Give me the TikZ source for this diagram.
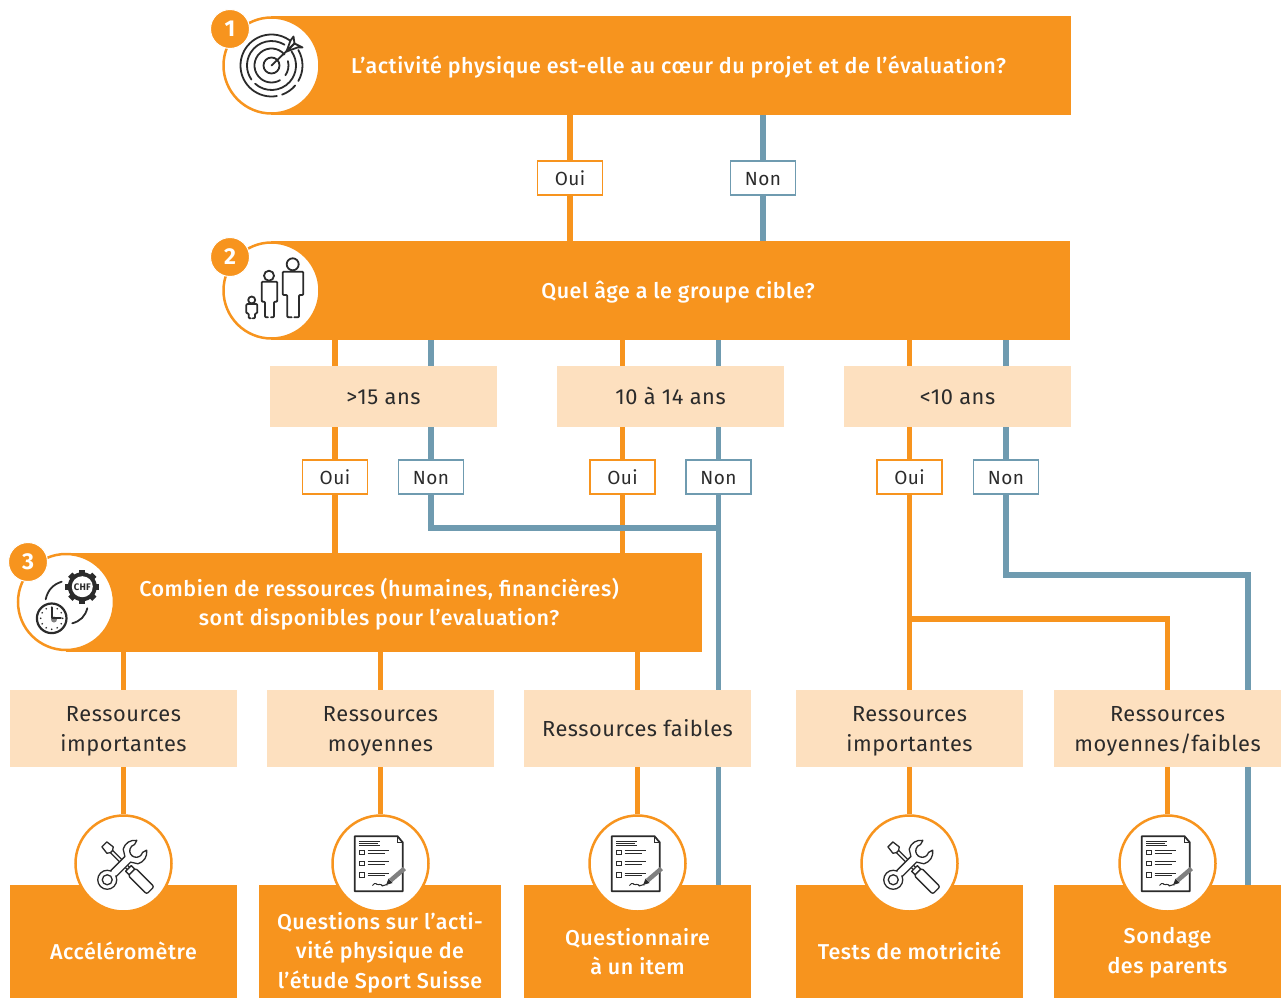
\documentclass[tikz,border=0pt]{standalone}
\usepackage{fontspec}
\setmainfont{Fira Sans}[LetterSpace=2.5]
\newfontfamily\heavyfont{Fira Sans Medium}[LetterSpace=2.5]
\usetikzlibrary{backgrounds}
\definecolor{brandorange}{HTML}{F7941E}
\definecolor{brandpeach}{HTML}{FDE0BF}
\definecolor{brandblue}{HTML}{6F9BB0}
\definecolor{inkgrey}{HTML}{2B2B2B}
\tikzset{
    qbox/.style={rectangle, fill=brandorange, inner sep=0pt, minimum height=99pt},
    qtext/.style={text=white, font=\heavyfont\fontsize{21.5}{29.5}\selectfont, align=center, inner sep=0pt},
    agebox/.style={rectangle, fill=brandpeach, inner sep=0pt, minimum width=227pt, minimum height=61pt, text=inkgrey, font=\fontsize{21.8}{30}\selectfont, align=center},
    resbox/.style={agebox, minimum height=77pt},
    oneline/.style={text height=16pt, text depth=0pt},
    outbox/.style={rectangle, fill=brandorange, inner sep=0pt, minimum width=227pt, minimum height=113pt, text=white, font=\heavyfont\fontsize{21.5}{29.5}\selectfont, align=center},
    ouitag/.style={rectangle, draw=brandorange, line width=1.5pt, fill=white, inner sep=0pt, minimum width=65pt, minimum height=34pt, text=inkgrey, text height=14pt, text depth=0pt, font=\fontsize{19}{22}\selectfont},
    nontag/.style={ouitag, draw=brandblue},
    ouiline/.style={draw=brandorange, line width=5.5pt},
    nonline/.style={draw=brandblue, line width=5.5pt},
    iconring/.style={circle, draw=brandorange, line width=2.5pt, fill=white, inner sep=0pt, minimum size=96pt},
    badge/.style={circle, fill=brandorange, draw=white, line width=1pt, inner sep=0pt, minimum size=39pt, text=white, font=\fontsize{23}{23}\selectfont\bfseries},
    iconline/.style={draw=inkgrey, line width=1.8pt, line cap=round, line join=round},
    targeticon/.pic={
        \begin{scope}[y=1pt, iconline]
            \draw (0,0) circle (8);
            \draw (40:17) arc (40:300:17);
            \draw (-35:17) arc (-35:15:17);
            \draw (58:24.5) arc (58:215:24.5);
            \draw (228:24.5) arc (228:395:24.5);
            \draw (50:31) arc (50:280:31);
            \draw (-70:31) arc (-70:-40:31);
            \draw (-30:31) arc (-30:30:31);
            \draw (0,0) -- (22,21);
            \draw[fill=white] (15,14) -- (19,25) -- (22,29) -- (23,22) -- cycle;
            \draw[fill=white] (15,14) -- (26,18) -- (31,18) -- (23,22) -- cycle;
        \end{scope}
    },
    groupicon/.pic={
        \begin{scope}[iconline, rounded corners=1pt]
            \draw (20.2,26.8) -- (15.8,26.8) -- (15.8,4.5) -- (11.2,4.5) -- (11.2,-18.8) -- (31.8,-18.8) -- (31.8,4.5) -- (27.5,4.5) -- (27.5,26.8) -- (22.8,26.8);
            \draw (-3.5,26.8) -- (-6.5,26.8) -- (-6.5,11.2) -- (-9.8,11.2) -- (-9.8,-8.8) -- (5.8,-8.8) -- (5.8,11.2) -- (2.5,11.2) -- (2.5,26.8) -- (-.5,26.8);
            \draw (-20.8,27.8) -- (-22.8,27.8) -- (-22.8,22.8) -- (-25.2,22.8) -- (-25.2,13.5) -- (-14.2,13.5) -- (-14.2,22.8) -- (-16.5,22.8) -- (-16.5,27.8) -- (-18.8,27.8);
        \end{scope}
        \draw[iconline] (21.2,-26.2) circle (6);
        \draw[iconline] (-2.5,-14.8) circle (5);
        \draw[iconline] (-19.8,9.5) circle (3.5);
    },
    budgeticon/.pic={
        % gear
        \foreach \a in {0,45,...,315}
            \fill[inkgrey, shift={(16.3,-15.3)}, rotate=\a] (-3,-17) rectangle (3,0);
        \fill[inkgrey] (16.3,-15.3) circle (14.5);
        \fill[white] (16.3,-15.3) circle (10.5);
        \node[text=inkgrey, inner sep=0pt, font=\fontsize{9.5}{10}\selectfont\bfseries] (chf) at (16.3,-15.3) {CHF};
        % clock
        \draw[draw=inkgrey, line width=2.2pt, fill=white] (-14.3,16.3) circle (14.8);
        \foreach \a in {0,30,...,330}
            \fill[inkgrey, shift={(-14.3,16.3)}] (\a:11) circle (.9);
        \fill[gray] (-12,17.5) circle (3);
        \draw[iconline] (-14.3,5.5) -- (-14.3,16.3) -- (-5,16.3);
        % cycle arcs
        \draw[iconline] (-4.3,-20.3) to[bend right=30] (-20.3,-2.7);
        \draw[iconline] (21.3,6.3) to[bend left=30] (6.3,21.3);
    },
    toolsicon/.pic={
        \begin{scope}[y=1pt, rotate=-45, draw=inkgrey, line width=1.3pt, line join=round, fill=white]
            % screwdriver
            \draw[fill=white] (-17,-1.6) -- (8,-1.6) -- (8,1.6) -- (-17,1.6) -- cycle;
            \draw[fill=white] (-27,-3.5) -- (-19,-4.5) -- (-17,-1.6) -- (-17,1.6) -- (-19,4.5) -- (-27,3.5) -- cycle;
            \draw[fill=white] (7,-4) rectangle (12,4);
            \draw[fill=white, rounded corners=2pt] (12,-5.2) rectangle (38,5.2);
        \end{scope}
        \begin{scope}[y=1pt, rotate=45, draw=inkgrey, line width=1.3pt, line join=round]
            % wrench
            \draw[fill=white] (-15,-4) -- (6,-4) -- (10,-10.4) arc (240:325:12) -- (21.25,-5.63) arc (-60:-300:6.5) -- (25.8,6.9) arc (35:120:12) -- (6,4) -- (-15,4);
            \draw[fill=white] (-23,0) circle (9.5);
            \draw[fill=white] (-23,0) circle (5);
            \path[fill=white] (-16,-2.8) rectangle (-11,2.8);
        \end{scope}
    },
    formicon/.pic={
        \draw[draw=inkgrey, line width=1.8pt, line join=round] (-25.7,-27.3) -- (17,-27.3) -- (22.3,-21) -- (22.3,27.7) -- (-25.7,27.7) -- cycle;
        \draw[draw=inkgrey, line width=1pt] (17,-27.3) -- (17,-21) -- (22.3,-21);
        \draw[draw=inkgrey, line width=1pt] (-21.5,-22.3) -- (-.5,-22.3) (-21.5,-20.3) -- (-3,-20.3) (-21.5,-18.3) -- (-.5,-18.3);
        \foreach \y in {-11,0,11.5} {
            \draw[draw=inkgrey, line width=1.2pt] (-20.7,\y-2.2) rectangle (-16.2,\y+2.2);
            \draw[draw=inkgrey, line width=1pt] (-13,\y-2) -- (8,\y-2) (-13,\y+.6) -- (4,\y+.6);
        }
        \draw[draw=inkgrey, line width=1pt, rounded corners=1.5pt] (-8,22) -- (-5,19) -- (-3,22) -- (0,20) -- (2,23) -- (4,21) -- (7,21.5);
        \draw[draw=gray, line width=4.5pt] (10,17) -- (24,5);
        \fill[inkgrey] (5.5,21.5) -- (8,15.2) -- (12,19.5) -- cycle;
    }
}
\begin{document}
\begin{tikzpicture}[x=1pt, y=-1pt]
    \useasboundingbox (0,0) rectangle (1281,998);

    % Questions
    \node[qbox, minimum width=800pt] (q1) at (671,65.5) {};
    \node[qbox, below of=q1, node distance=225pt, xshift=-.5pt, minimum width=799pt] (q2) {};
    \node[qtext] (q1txt) at ([xshift=7.5pt, yshift=-1.5pt]q1.center) {L’activité physique est-elle au cœur du projet et de l’évaluation?};
    \node[qtext] (q2txt) at ([xshift=7.5pt, yshift=-1.5pt]q2.center) {Quel âge a le groupe cible?};

    % Age groups
    \node[agebox, oneline, below of=q2, node distance=106pt, xshift=-287pt] (age1) {>15 ans};
    \node[agebox, oneline, below of=q2, node distance=106pt] (age2) {10 à 14 ans};
    \node[agebox, oneline, below of=q2, node distance=106pt, xshift=287pt] (age3) {<10 ans};

    % Oui and Non
    \node[ouitag, below of=q1, node distance=112.5pt, xshift=-101pt] (oui1) {Oui};
    \node[nontag, below of=q1, node distance=112.5pt, xshift=92pt] (non1) {Non};
    \node[ouitag, below of=age1, node distance=80.5pt, xshift=-48.5pt] (oui2) {Oui};
    \node[nontag, below of=age1, node distance=80.5pt, xshift=47.5pt] (non2) {Non};
    \node[ouitag, below of=age2, node distance=80.5pt, xshift=-48pt] (oui3) {Oui};
    \node[nontag, below of=age2, node distance=80.5pt, xshift=48pt] (non3) {Non};
    \node[ouitag, below of=age3, node distance=80.5pt, xshift=-48pt] (oui4) {Oui};
    \node[nontag, below of=age3, node distance=80.5pt, xshift=48.5pt] (non4) {Non};

    % Third question
    \node[qbox, below of=age1, node distance=206pt, xshift=.5pt, minimum width=636pt] (q3) {};
    \node[qtext] (q3txt) at ([xshift=-5pt, yshift=-1.5pt]q3.center) {Combien de ressources (humaines, financières)\\sont disponibles pour l’evaluation?};

    % Resources
    \node[resbox, below of=q3, node distance=126pt, xshift=-260.5pt] (res1) {\\[-10pt]Ressources\\importantes};
    \node[resbox, below of=q3, node distance=126pt, xshift=-3.5pt] (res2) {\\[-10pt]Ressources\\moyennes};
    \node[resbox, oneline, below of=q3, node distance=126pt, xshift=253.5pt] (res3) {Ressources faibles};
    \node[resbox, below of=age3, node distance=332pt, xshift=-48pt] (res4) {\\[-10pt]Ressources\\importantes};
    \node[resbox, below of=age3, node distance=332pt, xshift=210pt] (res5) {\\[-10pt]Ressources\\moyennes/faibles};

    % Results
    \node[outbox, below of=res1, node distance=213pt] (out1) {\\[7pt]Accéléromètre};
    \node[outbox, below of=res2, node distance=213pt, xshift=-.5pt, minimum width=242pt] (out2) {\\[10pt]Questions sur l’acti-\\vité physique de\\l’étude Sport Suisse};
    \node[outbox, below of=res3, node distance=213pt] (out3) {\\[8pt]Questionnaire\\à un item};
    \node[outbox, below of=res4, node distance=213pt] (out4) {\\[7pt]Tests de motricité};
    \node[outbox, below of=res5, node distance=213pt] (out5) {\\[9pt]Sondage\\des parents};

    % Icon rings
    \node[iconring] (ring1) at (271.5,65.5) {};
    \node[iconring] (ring2) at (271.5,290.5) {};
    \node[iconring] (ring3) at (66,602) {};
    \node[iconring, below of=res1, node distance=135pt] (ring4) {};
    \node[iconring, below of=res2, node distance=135pt] (ring5) {};
    \node[iconring, below of=res3, node distance=135pt] (ring6) {};
    \node[iconring, below of=res4, node distance=135pt] (ring7) {};
    \node[iconring, below of=res5, node distance=135pt] (ring8) {};
    \node[badge] (num1) at (230,29) {1};
    \node[badge] (num2) at (230,257) {2};
    \node[badge] (num3) at (28,562) {3};

    % Icons
    \pic at (ring1) {targeticon};
    \pic at (ring2) {groupicon};
    \pic at (ring3) {budgeticon};
    \pic at (ring4) {toolsicon};
    \pic at (ring5) {formicon};
    \pic at (ring6) {formicon};
    \pic at (ring7) {toolsicon};
    \pic at (ring8) {formicon};

    % Bends
    \coordinate[below of=non3, node distance=51pt] (nonjoin);
    \coordinate[below of=oui4, node distance=142pt] (ouisplit);
    \coordinate[below of=non4, node distance=98pt, xshift=242pt] (nonbend);

    % Arrows
    \begin{scope}[on background layer]
        \draw[ouiline] (q1.south -| oui1) -- (q2.north -| oui1);
        \draw[nonline] (q1.south -| non1) -- (q2.north -| non1);
        \draw[ouiline] (q2.south -| oui2) -- (q3.north -| oui2);
        \draw[ouiline] (q2.south -| oui3) -- (q3.north -| oui3);
        \draw[nonline] (q2.south -| non2) |- (nonjoin);
        \draw[nonline] (q2.south -| non3) -- (out3.north -| non3);
        \draw[ouiline] (q2.south -| oui4) -- (ring7);
        \draw[ouiline] (ouisplit) -| (ring8);
        \draw[nonline] (q2.south -| non4) |- (nonbend) -- (out5.north -| nonbend);
        \draw[ouiline] (q3.south -| res1) -- (ring4);
        \draw[ouiline] (q3.south -| res2) -- (ring5);
        \draw[ouiline] (q3.south -| res3) -- (ring6);
    \end{scope}
\end{tikzpicture}
\end{document}
